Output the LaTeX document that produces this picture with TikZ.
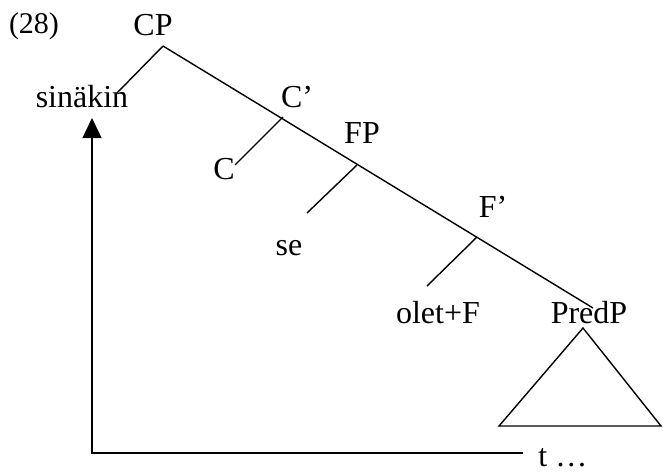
\documentclass[tikz,border=0pt]{standalone}
\usepackage{fontspec}
\setmainfont{Liberation Serif}
\usetikzlibrary{arrows.meta}
\begin{document}
\begin{tikzpicture}[x=0.5pt,y=-0.5pt,
  lbl/.style={inner sep=0pt,anchor=base,font=\fontsize{16}{19}\selectfont},
  edge/.style={line width=0.7pt},
  move/.style={line width=0.7pt,-{Triangle[length=10pt,width=9.5pt]}}]
\useasboundingbox (0,0) rectangle (663,471);
% labels
\node[lbl,font=\fontsize{15}{18}\selectfont] (ex) at (34,33) {(28)};
\node[lbl] (cpl) at (153,35) {CP};
\node[lbl] (sin) at (82,107) {sinäkin};
\node[lbl] (cbl) at (297,107) {C’};
\node[lbl] (cl) at (224,179) {C};
\node[lbl] (fpl) at (362,143) {FP};
\node[lbl] (sel) at (289,255) {se};
\node[lbl] (fbl) at (493,217) {F’};
\node[lbl] (olet) at (438,323) {olet+F};
\node[lbl] (predl) at (589,323) {PredP};
\node[lbl,anchor=base west] (tl) at (538,466) {t \ldots};
% junctions
\coordinate (cp) at (163,46);
\coordinate (sinE) at (117,93);
\coordinate (cb) at (283,117);
\coordinate (cE) at (235,165);
\coordinate (fp) at (357,165);
\coordinate (seE) at (307,213);
\coordinate (fb) at (477,237);
\coordinate (oletE) at (427,286);
\coordinate (pred) at (593,308);
\coordinate (triA) at (583,328);
\coordinate (triL) at (499,426);
\coordinate (triR) at (661,426);
\coordinate (tE) at (523,453);
\coordinate (corner) at (92,453);
\coordinate (tip) at (92,118);
% tree
\draw[edge] (cp) -- (pred);
\draw[edge] (cp) -- (sinE);
\draw[edge] (cb) -- (cE);
\draw[edge] (fp) -- (seE);
\draw[edge] (fb) -- (oletE);
\draw[edge] (triA) -- (triL) -- (triR) -- cycle;
% movement
\draw[move] (tE) -- (corner) -- (tip);
\end{tikzpicture}
\end{document}
